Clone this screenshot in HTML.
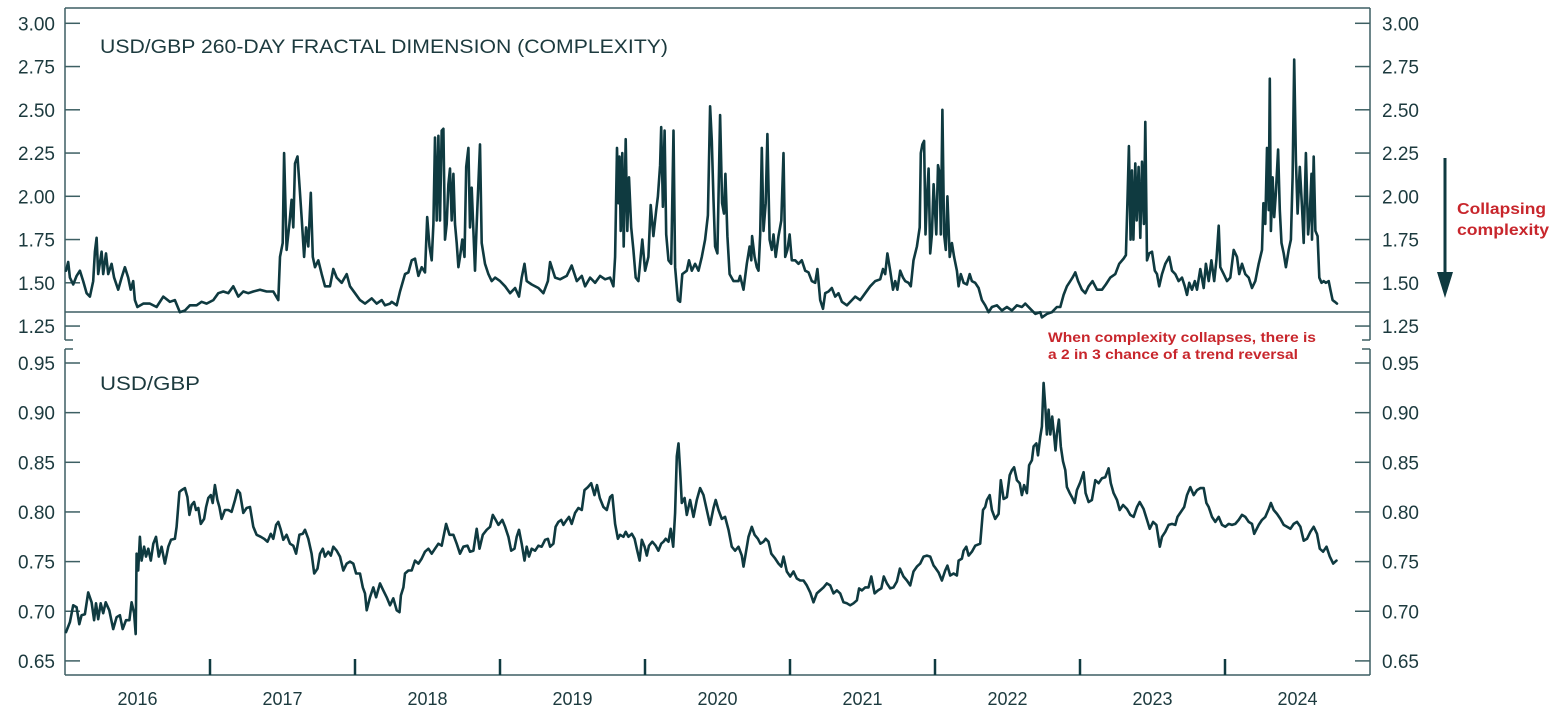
<!DOCTYPE html>
<html><head><meta charset="utf-8"><style>
html,body{margin:0;padding:0;background:#fff;}
svg{display:block;font-family:"Liberation Sans",sans-serif;}
</style></head><body>
<svg id="chart" width="1552" height="717" viewBox="0 0 1552 717" xmlns="http://www.w3.org/2000/svg">
<g id="frame"></g>
<g id="ticks"></g>
<g id="series"></g>
<text x="100" y="53" font-size="19" fill="#1c3a3e" textLength="568" lengthAdjust="spacingAndGlyphs">USD/GBP 260-DAY FRACTAL DIMENSION (COMPLEXITY)</text>
<text x="100" y="390" font-size="19" fill="#1c3a3e" textLength="100" lengthAdjust="spacingAndGlyphs">USD/GBP</text>
<g>
<line x1="1445" y1="158" x2="1445" y2="280" stroke="#0f3a40" stroke-width="3"/>
<polygon points="1437,272 1453,272 1445,298" fill="#0f3a40"/>
</g>
<text x="1457" y="214" font-size="16" font-weight="bold" fill="#c8262c" textLength="89" lengthAdjust="spacingAndGlyphs">Collapsing</text>
<text x="1457" y="235" font-size="16" font-weight="bold" fill="#c8262c" textLength="92" lengthAdjust="spacingAndGlyphs">complexity</text>
<text x="1048" y="342" font-size="14" font-weight="bold" fill="#c8262c" textLength="268" lengthAdjust="spacingAndGlyphs">When complexity collapses, there is</text>
<text x="1048" y="359" font-size="14" font-weight="bold" fill="#c8262c" textLength="250" lengthAdjust="spacingAndGlyphs">a 2 in 3 chance of a trend reversal</text>
</svg>
<script>
// weeks since start of 2016
const topTickValues = [3.00, 2.75, 2.50, 2.25, 2.00, 1.75, 1.50, 1.25];
const topTickLabels = ["3.00","2.75","2.50","2.25","2.00","1.75","1.50","1.25"];
const bottomTickValues = [0.95, 0.90, 0.85, 0.80, 0.75, 0.70, 0.65];
const bottomTickLabels = ["0.95","0.90","0.85","0.80","0.75","0.70","0.65"];
const yearLabels = ["2016","2017","2018","2019","2020","2021","2022","2023","2024"];
const yearStarts = [2016,2017,2018,2019,2020,2021,2022,2023,2024,2025];

const fractalSeries = [
[0,1.57],[0.8,1.62],[1.4,1.53],[2.6,1.49],[3.8,1.54],[5.0,1.57],[6.2,1.51],[7.4,1.44],[8.6,1.42],[9.8,1.51],[10.4,1.68],[11.0,1.76],[11.6,1.55],[12.8,1.68],[13.4,1.55],[14.4,1.67],[15.2,1.55],[16.4,1.61],[17.3,1.53],[18.8,1.46],[20.0,1.53],[21.2,1.59],[22.4,1.53],[23.3,1.46],[24.2,1.51],[24.8,1.40],[25.7,1.36],[27.8,1.38],[30.2,1.38],[32.6,1.36],[35.0,1.42],[37.4,1.39],[39.2,1.40],[41.0,1.33],[42.8,1.34],[44.6,1.37],[47.0,1.37],[48.8,1.39],[50.6,1.38],[53.0,1.40],[54.8,1.44],[56.6,1.45],[58.4,1.44],[60.2,1.48],[62.0,1.42],[63.8,1.45],[65.6,1.44],[67.4,1.45],[69.8,1.46],[72.2,1.45],[74.6,1.45],[76.4,1.40],[77.0,1.65],[78.0,1.73],[78.5,2.25],[79.4,1.69],[80.4,1.84],[81.2,1.98],[81.8,1.82],[82.4,2.19],[83.3,2.23],[84.0,2.07],[84.8,1.88],[85.7,1.65],[86.4,1.82],[87.2,1.71],[88.1,2.02],[88.8,1.65],[89.6,1.59],[90.8,1.63],[92.0,1.55],[93.2,1.48],[95.0,1.48],[96.2,1.58],[97.4,1.53],[99.2,1.50],[101.0,1.55],[102.2,1.48],[104.0,1.44],[105.8,1.40],[107.6,1.38],[110.0,1.41],[111.8,1.38],[113.6,1.40],[114.8,1.37],[116.6,1.38],
[117.2,1.39],[119.0,1.37],[120.2,1.45],[122.0,1.55],[123.2,1.56],[124.4,1.63],[125.6,1.64],[126.8,1.54],[128.0,1.59],[129.2,1.56],[130.0,1.88],[130.8,1.71],[131.6,1.63],[132.2,1.84],[132.8,2.34],[133.4,1.86],[134.0,2.35],[134.6,1.86],[135.2,2.38],[135.8,2.39],[136.4,1.75],[137.0,1.84],[137.6,2.07],[138.2,2.16],[138.8,1.86],[139.4,2.13],[140.0,1.84],[140.6,1.73],[141.2,1.59],[141.8,1.65],[142.6,1.75],[143.4,1.65],[144.0,2.17],[144.8,2.28],[145.4,1.82],[146.0,2.05],[146.6,1.80],[147.2,1.57],[147.8,1.84],[149.0,2.30],[149.6,1.73],[150.8,1.61],[152.0,1.55],[153.2,1.51],[154.4,1.53],[156.2,1.51],[158.0,1.48],[159.8,1.44],[161.6,1.47],[163.0,1.42],[164.0,1.53],[165.0,1.61],[165.8,1.51],[167.6,1.49],[170.0,1.47],[171.8,1.44],[173.4,1.51],[174.2,1.62],[176.0,1.53],[177.8,1.52],[180.2,1.54],[182.0,1.60],[183.8,1.51],[185.6,1.54],[186.8,1.48],[188.6,1.53],[190.4,1.50],[192.2,1.54],[194.0,1.52],[195.8,1.53],[197.0,1.48],[197.6,1.65],[198.3,2.28],[198.8,1.96],[199.2,2.23],[199.6,1.80],[200.2,2.25],[200.7,1.71],[201.4,2.33],[202.0,1.80],[202.6,2.11],[203.4,1.82],[204.2,1.69],[205.0,1.53],[206.0,1.51],[207.4,1.75],[208.4,1.57],[209.6,1.65],[210.4,1.95],[211.4,1.77],[212.4,1.92],[213.0,2.00],[213.8,2.18],[214.2,2.40],[214.8,1.94],[215.4,2.38],[216.0,1.78],[216.8,1.63],[217.8,1.61],[218.6,2.38],[219.2,1.59],[220.2,1.40],[221.0,1.39],[221.8,1.55],[223.4,1.57],[224.2,1.63],[225.2,1.57],[226.4,1.61],[227.6,1.57],[228.8,1.65],[230.0,1.75],[231.0,1.89],[231.8,2.52],
[232.4,2.32],[233.0,1.98],[233.6,1.71],[234.4,1.67],[235.4,2.47],[236.1,1.96],[236.8,1.90],[237.3,2.13],[238.0,1.77],[238.8,1.55],[240.2,1.51],[242.0,1.51],[242.6,1.54],[243.8,1.46],[245.0,1.61],[246.0,1.71],[246.6,1.63],[246.9,1.77],[247.8,1.65],[248.6,1.59],[249.2,1.57],[249.8,1.78],[250.4,2.28],[251.0,1.80],[251.8,1.96],[252.4,2.36],[253.2,1.75],[254.0,1.69],[254.6,1.78],[255.4,1.65],[256.4,1.77],[257.4,1.86],[258.2,2.25],[258.8,1.65],[259.6,1.69],[260.4,1.78],[261.2,1.63],[262.4,1.63],[263.6,1.61],[264.8,1.63],[266.0,1.57],[267.2,1.56],[268.4,1.51],[269.6,1.50],[270.4,1.58],[271.4,1.40],[272.4,1.35],[273.2,1.44],[274.4,1.45],[275.6,1.47],[276.8,1.42],[278.0,1.44],[279.2,1.39],[281.0,1.37],[282.8,1.40],[284.0,1.42],[285.8,1.40],[287.6,1.44],[289.4,1.48],[291.2,1.51],[293.0,1.52],[294.0,1.58],[294.8,1.55],[295.6,1.67],[296.6,1.57],[297.6,1.46],[298.4,1.51],[299.2,1.46],[300.2,1.57],[301.2,1.53],[302.0,1.51],[303.2,1.50],[304.0,1.48],[305.0,1.63],[306.2,1.71],[307.2,1.82],[307.6,2.25],[308.2,2.30],[308.8,2.32],[309.3,1.78],[309.8,1.98],[310.4,2.16],[311.0,1.67],[311.6,1.78],[312.2,2.07],[313.2,1.78],[313.8,2.18],[314.4,2.13],[314.8,1.78],[315.4,2.50],[316.0,1.78],[316.6,1.69],[317.2,2.00],[318.0,1.65],[318.8,1.73],[319.6,1.65],[320.6,1.57],[321.2,1.48],[322.0,1.55],[323.0,1.50],[324.2,1.49],[325.2,1.55],[326.0,1.51],[327.2,1.50],[328.4,1.47],[329.6,1.40],[330.8,1.37],[332.0,1.33],[333.2,1.36],[335.0,1.37],[336.8,1.34],[338.6,1.36],[340.4,1.34],[342.2,1.37],[344.0,1.36],[345.2,1.38],[347.0,1.35],[348.8,1.32],[350.6,1.33],
[351.2,1.30],[353.0,1.32],[354.8,1.33],[356.6,1.36],[357.8,1.36],[359.0,1.43],[360.2,1.48],[361.4,1.51],[362.2,1.53],[363.2,1.56],[364.2,1.51],[365.6,1.46],[366.8,1.44],[368.0,1.48],[369.4,1.51],[371.0,1.46],[372.8,1.46],[374.2,1.49],[375.8,1.53],[377.6,1.55],[379.0,1.61],[380.6,1.64],[381.4,1.66],[382.0,1.98],[382.5,2.29],[383.1,1.75],[383.6,2.15],[384.1,1.75],[384.8,2.19],[385.3,1.86],[386.0,2.17],[386.6,1.76],[387.2,2.20],[387.9,1.84],[388.4,2.43],[389.0,1.63],[389.8,1.67],[390.8,1.68],[391.8,1.57],[392.6,1.55],[393.4,1.48],[394.4,1.55],[395.6,1.61],[397.0,1.65],[398.0,1.57],[399.2,1.55],[400.4,1.51],[401.6,1.53],[402.6,1.48],[403.4,1.43],[404.2,1.50],[405.2,1.46],[406.2,1.51],[407.0,1.46],[408.2,1.58],[409.4,1.47],[410.2,1.61],[411.2,1.51],[412.2,1.63],[413.2,1.51],[414.0,1.63],[414.8,1.83],[415.4,1.59],[416.6,1.55],[417.8,1.51],[419.0,1.53],[420.2,1.69],[421.4,1.65],[422.2,1.55],[423.2,1.61],[424.4,1.55],[425.6,1.53],[426.8,1.47],[428.0,1.51],[429.2,1.61],[430.4,1.69],[430.9,1.96],[431.6,1.84],[432.2,2.28],[432.8,1.92],[433.2,2.68],[433.6,1.80],[434.2,2.11],[434.8,1.88],[435.4,2.02],[436.2,2.27],[436.8,1.92],[437.4,1.73],[438.2,1.67],[439.0,1.59],[440.0,1.69],[440.8,1.75],[441.4,2.11],[442.0,2.79],[442.6,2.21],[443.2,1.90],[444.0,2.17],[444.8,1.94],[445.4,1.73],[446.2,2.25],[447.0,1.78],[447.6,1.90],[448.2,2.13],[448.4,1.75],[449.0,2.23],[449.6,1.80],[450.4,1.77],[451.0,1.53],[451.8,1.50],[452.6,1.51],[453.4,1.50],[454.4,1.51],[455.0,1.46],[455.8,1.40],[456.6,1.39],[457.4,1.38]
];

const usdGbpSeries = [
[0.0,0.679],[1.4,0.689],[2.6,0.706],[3.8,0.704],[4.8,0.687],[5.6,0.696],[6.8,0.697],[8.0,0.719],[9.2,0.709],[10.1,0.691],[10.8,0.708],[11.6,0.692],[12.5,0.708],[13.4,0.698],[14.3,0.709],[15.6,0.701],[17.0,0.682],[18.2,0.694],[19.4,0.696],[20.4,0.682],[21.6,0.691],[22.8,0.691],[23.6,0.709],[24.5,0.698],[25.1,0.677],[25.4,0.758],[26.0,0.741],[26.6,0.775],[27.2,0.751],[28.1,0.765],[28.8,0.755],[29.6,0.763],[30.5,0.751],[31.4,0.768],[32.4,0.775],[33.4,0.755],[34.4,0.765],[35.6,0.748],[36.8,0.765],[37.8,0.772],[39.2,0.773],[39.8,0.785],[40.8,0.820],[41.6,0.822],[42.8,0.824],[43.7,0.815],[44.4,0.797],[45.2,0.807],[46.1,0.810],[46.8,0.802],[47.6,0.804],[48.5,0.788],[49.7,0.793],[50.4,0.805],[51.2,0.814],[52.1,0.817],[52.8,0.809],[53.6,0.827],[54.5,0.812],[55.2,0.805],[56.0,0.793],[57.2,0.802],[58.4,0.802],[59.6,0.800],[60.8,0.812],[61.7,0.822],[62.6,0.819],[63.8,0.799],[65.0,0.804],[66.2,0.805],[67.4,0.785],[68.6,0.777],[70.1,0.775],[71.3,0.773],[72.5,0.770],[73.7,0.778],[74.6,0.773],[75.6,0.787],[76.4,0.790],[77.3,0.782],[78.2,0.772],[79.4,0.777],[80.6,0.768],[81.8,0.766],[82.8,0.758],[84.0,0.777],[85.2,0.778],[86.0,0.782],[87.2,0.773],[88.4,0.758],[89.3,0.738],[90.5,0.743],[91.4,0.758],[92.4,0.763],[93.2,0.755],[94.4,0.760],[95.3,0.756],[96.2,0.765],[97.4,0.761],[98.6,0.755],[99.8,0.741],[101.0,0.748],[102.2,0.750],[103.4,0.748],[104.4,0.738],[105.8,0.738],[106.8,0.724],[107.6,0.718],[108.2,0.701],[109.4,0.714],[110.6,0.724],[111.6,0.714],[113.0,0.728],[114.2,0.721],[115.4,0.714],[116.6,0.706],[117.8,0.713],[119.0,0.701],[120.0,0.699],[120.5,0.716],[121.4,0.724],[122.0,0.738],[123.2,0.741],[124.4,0.741],[125.6,0.751],[126.8,0.748],[128.0,0.753],[129.2,0.760],[130.4,0.763],[131.6,0.758],[132.8,0.763],[134.0,0.768],[135.2,0.766],[136.8,0.788],[138.0,0.777],[139.4,0.777],[140.6,0.768],[141.8,0.758],[143.0,0.765],[144.5,0.766],[145.4,0.760],[146.6,0.761],[147.8,0.783],[148.8,0.763],[150.0,0.777],[151.4,0.782],[152.6,0.785],[153.6,0.797],[154.4,0.793],[155.6,0.787],
[157.0,0.792],[158.0,0.785],[159.2,0.775],[160.2,0.761],[161.4,0.763],[162.2,0.775],[163.0,0.782],[164.0,0.768],[165.0,0.751],[165.8,0.765],[166.6,0.755],[167.6,0.763],[168.8,0.761],[170.0,0.766],[171.2,0.765],[172.4,0.772],[173.4,0.773],[174.2,0.765],[175.4,0.768],[176.2,0.785],[177.2,0.790],[178.2,0.792],[179.0,0.787],[180.2,0.792],[181.0,0.795],[182.0,0.788],[183.2,0.799],[184.4,0.804],[185.6,0.802],[186.6,0.822],[187.8,0.825],[189.0,0.829],[190.2,0.817],[191.1,0.827],[192.1,0.814],[193.4,0.805],[194.6,0.802],[195.8,0.815],[196.6,0.817],[197.6,0.788],[198.6,0.773],[199.4,0.777],[200.6,0.775],[201.4,0.780],[202.4,0.775],[203.6,0.778],[204.6,0.773],[205.4,0.763],[206.4,0.751],[207.2,0.772],[208.2,0.765],[209.0,0.756],[209.8,0.766],[211.0,0.770],[212.2,0.766],[213.2,0.761],[214.2,0.768],[215.0,0.770],[215.8,0.773],[216.8,0.770],[217.6,0.783],[218.5,0.765],[219.2,0.799],[219.8,0.856],[220.4,0.869],[221.0,0.842],[221.6,0.809],[222.6,0.814],[223.4,0.797],[224.6,0.812],[225.8,0.795],[227.0,0.812],[228.2,0.824],[229.4,0.817],[230.6,0.802],[231.8,0.787],[233.0,0.804],[233.8,0.812],[234.8,0.802],[236.0,0.793],[237.2,0.795],[238.4,0.782],[239.6,0.765],[240.8,0.761],[242.0,0.765],[243.2,0.756],[243.8,0.745],[244.6,0.758],[245.6,0.775],[246.8,0.785],[247.8,0.777],[249.0,0.773],[249.9,0.768],[251.0,0.770],[251.8,0.773],[252.8,0.770],[253.8,0.758],[255.2,0.753],[256.4,0.748],[257.4,0.745],[258.2,0.755],[259.4,0.740],[260.6,0.735],[261.8,0.740],[263.0,0.733],[264.2,0.731],[265.4,0.731],[266.6,0.726],[267.8,0.719],[269.0,0.709],[270.2,0.718],[271.4,0.721],[272.6,0.724],[273.8,0.728],[275.0,0.726],[276.2,0.718],[277.4,0.721],[278.6,0.718],[279.8,0.709],[281.0,0.708],[282.2,0.706],[283.4,0.708],[284.6,0.711],[285.4,0.723],[286.4,0.721],[287.6,0.724],[288.8,0.724],[289.8,0.735],[291.0,0.718],[292.2,0.721],[293.4,0.723],[294.3,0.735],[295.4,0.728],[296.6,0.723],[297.8,0.724],[299.0,0.730],[300.1,0.743],[301.4,0.735],[302.6,0.731],[303.8,0.726],[305.0,0.740],[306.2,0.745],[307.4,0.748],[308.6,0.755],[309.8,0.756],[311.0,0.755],[312.2,0.746],
[312.8,0.744],[314.0,0.739],[315.2,0.731],[316.4,0.741],[317.2,0.746],[318.2,0.736],[319.4,0.738],[320.6,0.736],[321.2,0.751],[322.4,0.753],[323.0,0.761],[324.0,0.765],[324.8,0.756],[326.0,0.760],[327.2,0.766],[329.0,0.768],[330.0,0.802],[330.8,0.805],[331.4,0.812],[332.4,0.817],[333.2,0.802],[334.4,0.793],[335.6,0.798],[336.4,0.832],[337.4,0.813],[338.6,0.815],[339.6,0.837],[340.4,0.842],[341.2,0.845],[342.2,0.832],[343.2,0.829],[344.0,0.817],[344.8,0.827],[345.8,0.819],[346.6,0.847],[347.6,0.852],[348.2,0.866],[349.2,0.869],[349.8,0.857],[350.6,0.876],[351.2,0.886],[351.8,0.930],[352.4,0.906],[353.0,0.878],[353.6,0.903],[354.2,0.878],[354.9,0.896],[355.6,0.876],[356.1,0.862],[356.6,0.879],[357.3,0.893],[358.0,0.866],[358.8,0.851],[359.6,0.842],[360.2,0.825],[361.2,0.819],[362.0,0.815],[363.0,0.809],[363.8,0.822],[365.0,0.830],[366.2,0.840],[366.9,0.819],[368.0,0.810],[369.2,0.812],[370.4,0.832],[371.6,0.829],[372.8,0.834],[374.0,0.835],[375.2,0.844],[376.0,0.829],[377.0,0.819],[378.2,0.812],[379.2,0.802],[380.4,0.807],[381.8,0.803],[383.0,0.797],[384.2,0.795],[385.4,0.805],[386.4,0.810],[387.8,0.803],[389.0,0.792],[390.0,0.783],[391.2,0.790],[392.4,0.787],[393.6,0.765],[394.4,0.775],[395.6,0.780],[396.8,0.787],[398.0,0.788],[399.2,0.787],[400.0,0.795],[401.2,0.800],[402.4,0.805],[403.4,0.817],[404.6,0.825],[405.8,0.817],[407.0,0.822],[408.2,0.824],[409.4,0.824],[410.4,0.809],[411.2,0.805],[412.4,0.795],[413.6,0.790],[414.8,0.795],[416.0,0.787],[417.2,0.785],[418.4,0.788],[419.6,0.787],[420.8,0.788],[422.0,0.792],[423.2,0.797],[424.4,0.795],[425.6,0.790],[426.8,0.788],[427.6,0.778],[429.2,0.787],[430.4,0.792],[431.6,0.795],[432.8,0.803],[433.6,0.809],[434.6,0.802],[435.8,0.798],[437.0,0.793],[438.2,0.787],[439.4,0.785],[440.6,0.783],[441.8,0.788],[443.0,0.790],[444.2,0.785],[445.4,0.771],[446.6,0.773],[447.8,0.780],[449.0,0.785],[450.2,0.778],[451.2,0.763],[452.4,0.760],[453.6,0.765],[454.8,0.755],[456.0,0.748],[457.2,0.751]
];

const NS = "http://www.w3.org/2000/svg";
const X0 = 66, PX_PER_YEAR = 145, WEEKS_PER_YEAR = 52.18;
function xYear(y){ return X0 + (y - 2016) * PX_PER_YEAR; }
function xWeek(w){ return xYear(2016 + w / WEEKS_PER_YEAR); }
function yTop(v){ return 23.3 + (3 - v) * 173; }
function yBot(v){ return 363 + (0.95 - v) * 993; }
function mk(tag, attrs, parent){
  const el = document.createElementNS(NS, tag);
  for (const k in attrs) el.setAttribute(k, attrs[k]);
  parent.appendChild(el);
  return el;
}
const AX = "#3d5f63", TXT = "#1c3a3e", LINE = "#0f3a40";
const frame = document.getElementById('frame');
const ticks = document.getElementById('ticks');
const series = document.getElementById('series');
const L = 65, R = 1370;

// frame lines
let e;
e = mk('line', {x1:L, y1:8, x2:R, y2:8, stroke:AX, 'stroke-width':1.5}, frame);


e = mk('line', {x1:L, y1:8, x2:L, y2:340, stroke:AX, 'stroke-width':1.5}, frame);


e = mk('line', {x1:R, y1:8, x2:R, y2:340, stroke:AX, 'stroke-width':1.5}, frame);


e = mk('line', {x1:L, y1:312, x2:R, y2:312, stroke:AX, 'stroke-width':1.5}, frame);


e = mk('line', {x1:L, y1:349, x2:L, y2:675, stroke:AX, 'stroke-width':1.5}, frame);


e = mk('line', {x1:R, y1:349, x2:R, y2:675, stroke:AX, 'stroke-width':1.5}, frame);


e = mk('line', {x1:L, y1:675, x2:R, y2:675, stroke:AX, 'stroke-width':1.5}, frame);


[[340,-1],[349,1]].forEach(function(p){
  e = mk('line', {x1:L, y1:p[0], x2:L+8, y2:p[0], stroke:AX, 'stroke-width':1.5}, frame);
  
  
  e = mk('line', {x1:R-8, y1:p[0], x2:R, y2:p[0], stroke:AX, 'stroke-width':1.5}, frame);
  
  
});

function yTicks(values, labels, yf, prefix){
  values.forEach(function(v, i){
    const y = yf(v);
    let t = mk('line', {x1:L, y1:y, x2:L+15, y2:y, stroke:AX, 'stroke-width':1.5}, ticks);
    
    
    t = mk('line', {x1:R-15, y1:y, x2:R, y2:y, stroke:AX, 'stroke-width':1.5}, ticks);
    
    
    let tx = mk('text', {x:55, y:y+7, 'font-size':19, fill:TXT, 'text-anchor':'end'}, ticks);
    tx.textContent = labels[i];
    
    
    tx = mk('text', {x:1382, y:y+7, 'font-size':19, fill:TXT}, ticks);
    tx.textContent = labels[i];
    
    
  });
}
yTicks(topTickValues, topTickLabels, yTop, 'complexity-axis');
yTicks(bottomTickValues, bottomTickLabels, yBot, 'usd-gbp-axis');

yearStarts.forEach(function(yr, i){
  if (i > 0 && i < yearStarts.length - 1) {
    const x = xYear(yr) - 1;
    const t = mk('line', {x1:x, y1:659, x2:x, y2:675, stroke:LINE, 'stroke-width':2.5}, ticks);
    
    
  }
});
yearLabels.forEach(function(lbl, i){
  const x = xYear(yearStarts[i]) + PX_PER_YEAR / 2 - 1;
  const tx = mk('text', {x:x, y:705, 'font-size':18, fill:TXT, 'text-anchor':'middle'}, ticks);
  tx.textContent = lbl;
  
  
});

function drawLine(data, yf, name){
  const d = data.map(function(p, i){ return (i ? 'L' : 'M') + xWeek(p[0]).toFixed(1) + ' ' + yf(p[1]).toFixed(1); }).join(' ');
  const path = mk('path', {d:d, fill:'none', stroke:LINE, 'stroke-width':2.6, 'stroke-linejoin':'round', 'stroke-linecap':'round'}, series);
  
  
}
drawLine(fractalSeries, yTop, 'fractal-dimension-line');
drawLine(usdGbpSeries, yBot, 'usd-gbp-line');
</script>
</body></html>
